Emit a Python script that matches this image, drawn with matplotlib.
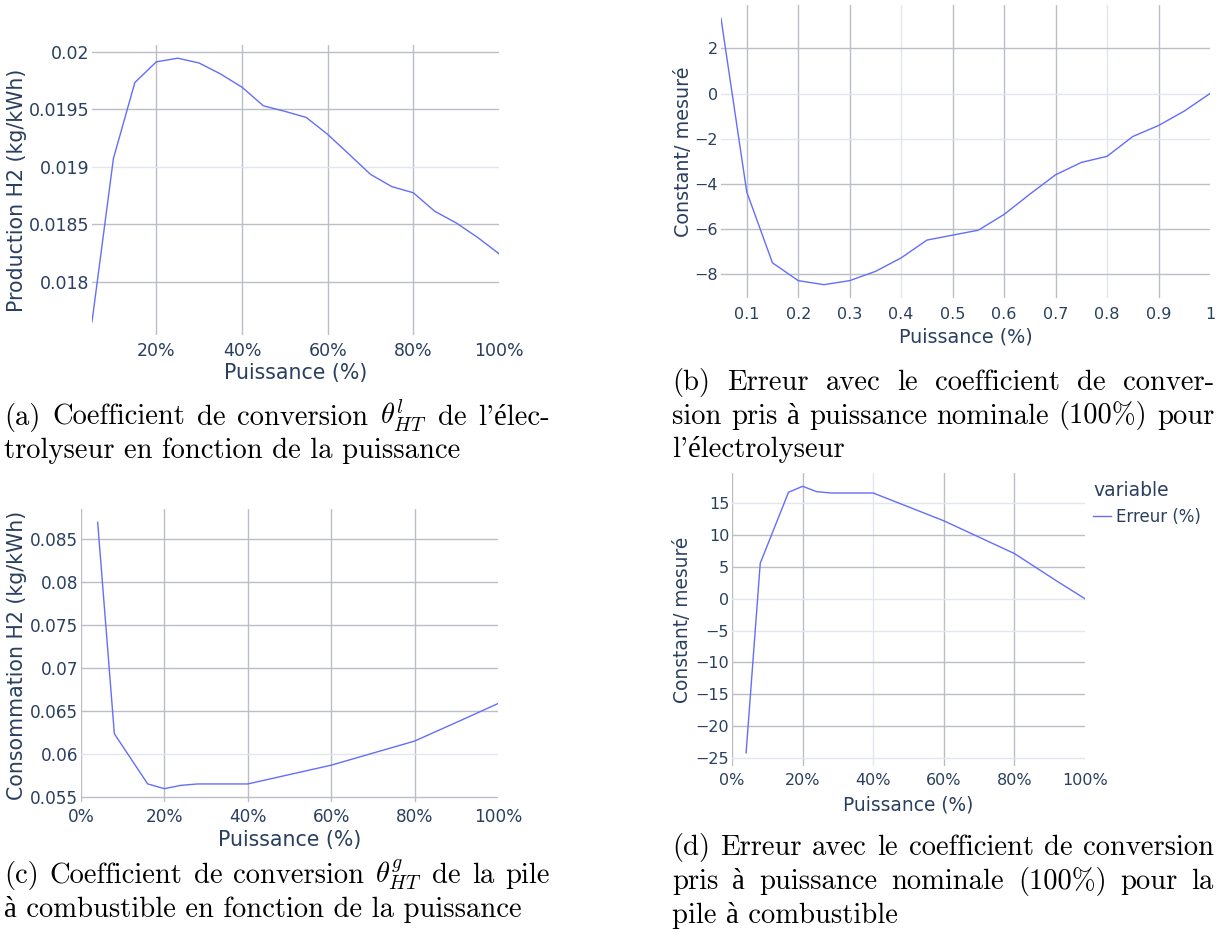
import matplotlib
matplotlib.use("Agg")
import matplotlib.pyplot as plt
from matplotlib.ticker import FuncFormatter, PercentFormatter

W, H = 1219, 936

# (a) electrolyseur : production H2 selon la puissance
puiss_elec = [0.05, 0.10, 0.15, 0.20, 0.25, 0.30, 0.35, 0.40, 0.45, 0.50,
              0.55, 0.60, 0.65, 0.70, 0.75, 0.80, 0.85, 0.90, 0.95, 1.00]
prod_h2 = [0.01765, 0.01907, 0.01973, 0.01991, 0.019942, 0.01990, 0.019805,
           0.01969, 0.019528, 0.01948, 0.019427, 0.01928, 0.019107, 0.018932,
           0.018825, 0.018772, 0.018611, 0.01851, 0.018384, 0.018242]

# (b) erreur electrolyseur
err_elec = [3.34, -4.37, -7.52, -8.31, -8.49, -8.31, -7.90, -7.30, -6.51, -6.29,
            -6.07, -5.37, -4.47, -3.61, -3.06, -2.79, -1.91, -1.42, -0.78, 0.0]

# (c) pile a combustible : consommation H2
puiss_pac = [0.04, 0.08, 0.16, 0.20, 0.24, 0.28, 0.40, 0.60, 0.80, 0.92, 1.00]
conso_h2 = [0.08695, 0.06239, 0.05656, 0.05601, 0.0564, 0.05656, 0.05656,
            0.05874, 0.06154, 0.06414, 0.0659]

# (d) erreur pile a combustible
err_pac = [-24.2, 5.58, 16.74, 17.68, 16.84, 16.63, 16.63, 12.26, 7.11, 2.79, 0.0]

LINE = "#636efa"
TXT = "#2a3f5f"
DARK = "#bcbec6"
LIGHT = "#e3e6ee"
SERIF = ["cmr10", "Liberation Serif"]

plt.rcParams["font.family"] = "DejaVu Sans"
plt.rcParams["mathtext.fontset"] = "cm"

fig = plt.figure(figsize=(W / 100, H / 100), dpi=100)


def px_axes(l, r, t, b):
    return fig.add_axes([l / W, 1 - b / H, (r - l) / W, (b - t) / H])


def fmt_g(v, pos):
    return f"{v:g}".replace("-", "\u2212")


def style(ax, xticks, yticks, xlim, tick_pt, title_pt, ylabel, ylab_x, xlab_y,
          xpad, light_x=(), light_y=(), percent=True):
    for s in ax.spines.values():
        s.set_visible(False)
    ax.set_xlim(*xlim)
    ax.set_xticks(xticks)
    ax.set_yticks(yticks)
    if percent:
        ax.xaxis.set_major_formatter(PercentFormatter(xmax=1, decimals=0))
    else:
        ax.xaxis.set_major_formatter(FuncFormatter(fmt_g))
    ax.yaxis.set_major_formatter(FuncFormatter(fmt_g))
    ax.tick_params(length=0, labelsize=tick_pt, labelcolor=TXT)
    ax.tick_params(axis="x", pad=xpad)
    ax.tick_params(axis="y", pad=2)
    ax.grid(True, color=DARK, linewidth=1.0)
    for v, tk in zip(xticks, ax.xaxis.get_major_ticks()):
        if v in light_x:
            tk.gridline.set_color(LIGHT)
        if v == 1.0:
            tk.gridline.set_visible(False)
    for v, tk in zip(yticks, ax.yaxis.get_major_ticks()):
        if v in light_y:
            tk.gridline.set_color(LIGHT)
    ax.set_xlabel("Puissance (%)", fontsize=title_pt, color=TXT)
    ax.set_ylabel(ylabel, fontsize=title_pt, color=TXT)
    ax.yaxis.set_label_coords(ylab_x, 0.5)
    ax.xaxis.set_label_coords(0.5, xlab_y)


# (a)
ax_a = px_axes(92, 499, 45, 335)
ax_a.plot(puiss_elec, prod_h2, color=LINE, lw=1.0)
style(ax_a, [0.2, 0.4, 0.6, 0.8, 1.0], [0.018, 0.0185, 0.019, 0.0195, 0.02],
      (0.05, 1.0), 12.5, 14.8, "Production H2 (kg/kWh)", -0.160, -0.097, 5,
      light_y=[0.019])

# (b)
ax_b = px_axes(721, 1210, 5, 298)
ax_b.plot(puiss_elec, err_elec, color=LINE, lw=1.0)
style(ax_b, [0.1, 0.2, 0.3, 0.4, 0.5, 0.6, 0.7, 0.8, 0.9, 1.0],
      [-8, -6, -4, -2, 0, 2], (0.05, 1.0), 11.5, 13.8, "Constant/ mesuré",
      -0.058, -0.102, 6.5, light_x=[0.4, 0.8], light_y=[0, -2], percent=False)

# (c)
ax_c = px_axes(81, 498, 509, 802)
ax_c.plot(puiss_pac, conso_h2, color=LINE, lw=1.0)
style(ax_c, [0, 0.2, 0.4, 0.6, 0.8, 1.0],
      [0.055, 0.06, 0.065, 0.07, 0.075, 0.08, 0.085], (0, 1.0), 12.2, 14.8,
      "Consommation H2 (kg/kWh)", -0.129, -0.096, 4.5, light_y=[0.06])

# (d)
ax_d = px_axes(732, 1085, 473, 766)
ax_d.plot(puiss_pac, err_pac, color=LINE, lw=1.0, label="Erreur (%)")
style(ax_d, [0, 0.2, 0.4, 0.6, 0.8, 1.0], [-25, -20, -15, -10, -5, 0, 5, 10, 15],
      (0, 1.0), 11.5, 13.4, "Constant/ mesuré", -0.112, -0.099, 5,
      light_x=[0.4], light_y=[15, 0, -5, -25])
leg = ax_d.legend(title="variable", loc="upper left",
                  bbox_to_anchor=(1093 / W, 1 - 481 / H),
                  bbox_transform=fig.transFigure, frameon=False, borderpad=0,
                  borderaxespad=0, handlelength=1.1, handletextpad=0.25,
                  fontsize=12, title_fontsize=13.5, alignment="left",
                  labelcolor=TXT)
leg.get_title().set_color(TXT)

# captions (justified lines like LaTeX)
renderer = fig.canvas.get_renderer()
CAP_PT = 20.6


def caption(lines, x0, x1, y0, dy):
    for i, (txt, justify) in enumerate(lines):
        y = 1 - (y0 + i * dy) / H
        if not justify:
            fig.text(x0 / W, y, txt, fontsize=CAP_PT, fontfamily=SERIF,
                     va="baseline", ha="left")
            continue
        words = txt.split(" ")
        objs = [fig.text(0, y, w, fontsize=CAP_PT, fontfamily=SERIF,
                         va="baseline", ha="left") for w in words]
        widths = [o.get_window_extent(renderer).width for o in objs]
        gap = (x1 - x0 - sum(widths)) / (len(words) - 1)
        x = x0
        for o, w in zip(objs, widths):
            o.set_x(x / W)
            x += w + gap


caption([(r"(a) Coefficient de conversion $\theta^{l}_{HT}$ de l'élec-", True),
         ("trolyseur en fonction de la puissance", False)], 4, 550, 425, 33)
caption([("(b) Erreur avec le coefficient de conver-", True),
         ("sion pris à puissance nominale (100%) pour", True),
         ("l'électrolyseur", False)], 672, 1214, 390, 33.5)
caption([(r"(c) Coefficient de conversion $\theta^{g}_{HT}$ de la pile", True),
         ("à combustible en fonction de la puissance", False)], 4, 550, 883, 34)
caption([("(d) Erreur avec le coefficient de conversion", True),
         ("pris à puissance nominale (100%) pour la", True),
         ("pile à combustible", False)], 672, 1214, 855, 34)

fig.savefig("out.png", dpi=100)
